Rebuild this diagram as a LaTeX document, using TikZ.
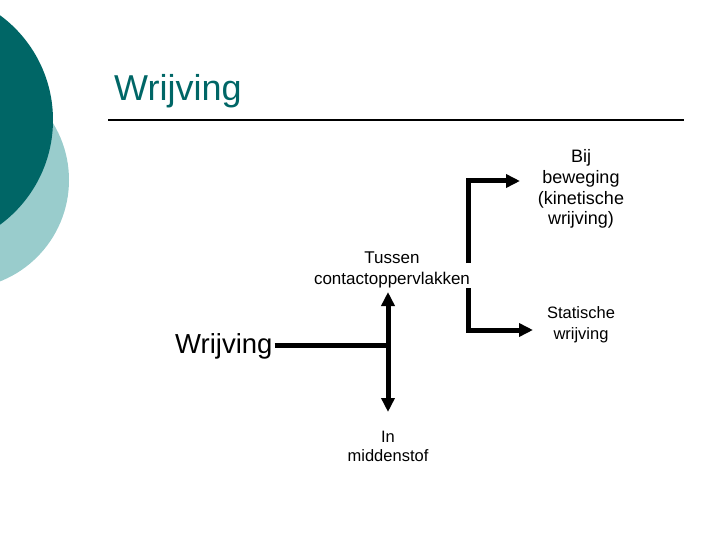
\documentclass[tikz,border=0pt]{standalone}
\usepackage{fontspec}
\setmainfont{Liberation Sans}
\usetikzlibrary{arrows.meta}
\definecolor{tealdark}{RGB}{0,102,102}
\definecolor{teallight}{RGB}{153,204,204}

\begin{document}
\begin{tikzpicture}[x=1pt,y=-1pt,
  lbl/.style={align=center,inner sep=0pt,font=\fontsize{17}{21}\selectfont},
  conn/.style={line width=5pt},
  arr/.style={conn,-{Triangle[length=14pt,width=13pt]}}]
\useasboundingbox (0,0) rectangle (720,540);
\clip (0,0) rectangle (720,540);
\fill[teallight] (-40,180) circle (109);
\fill[tealdark] (-77,120) circle (130);
\node[anchor=base west,inner sep=0pt,text=tealdark,font=\fontsize{36}{40}\selectfont] (title) at (114,101) {Wrijving};
\draw[line width=1.8pt] (108,120)--(684,120);
\node[anchor=base west,inner sep=0pt,font=\fontsize{27.5}{32}\selectfont] (wr) at (175,353) {Wrijving};
\node[lbl] (tus) at (392,270) {Tussen\\contactoppervlakken};
\node[lbl,font=\fontsize{18}{20.7}\selectfont] (bij) at (581,189) {Bij\\beweging\\(kinetische\\wrijving)};
\node[lbl,font=\fontsize{16.5}{21}\selectfont] (stat) at (581,325) {Statische\\wrijving};
\node[lbl,font=\fontsize{16.5}{19}\selectfont] (mid) at (388,446) {In\\middenstof};
\coordinate (j) at (388,345);
\coordinate (up) at (388,292);\coordinate (dn) at (388,412);
\coordinate (ka) at (468,263);\coordinate (kb) at (468,181);\coordinate (kc) at (520,181);
\coordinate (sa) at (468,288);\coordinate (sb) at (533,330);
\draw[conn] ([xshift=2pt]wr.east|-j)--(j);
\draw[arr] (j)--(up);\draw[arr] (j)--(dn);
\draw[arr] (ka)|-(kc);
\draw[arr] (sa)|-(sb);
\end{tikzpicture}
\end{document}
